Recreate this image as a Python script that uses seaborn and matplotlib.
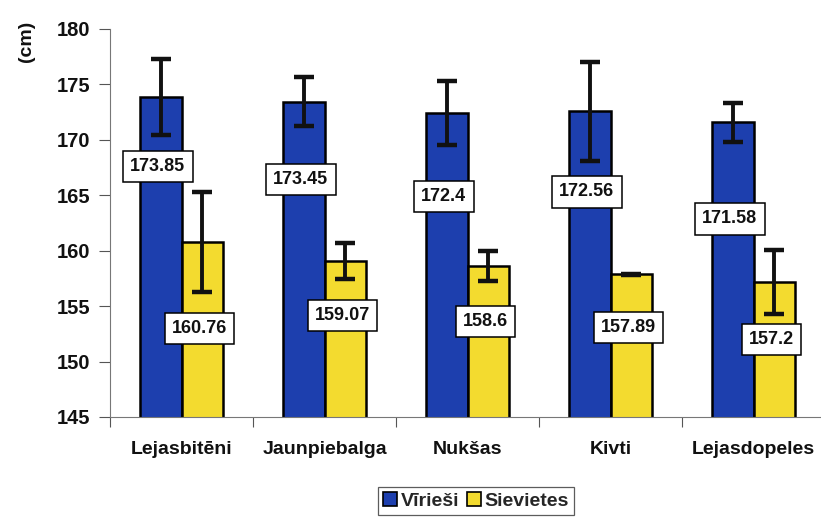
import numpy as np
import pandas as pd
import matplotlib
matplotlib.use("Agg")
import matplotlib.pyplot as plt
import seaborn as sns

sites = ["Lejasbitēni", "Jaunpiebalga", "Nukšas", "Kivti", "Lejasdopeles"]
men = [173.85, 173.45, 172.4, 172.56, 171.58]
women = [160.76, 159.07, 158.6, 157.89, 157.2]
men_sd = [3.45, 2.2, 2.9, 4.5, 1.75]
women_sd = [4.5, 1.65, 1.35, 0.05, 2.9]
groups = ["Vīrieši", "Sievietes"]

# how far below the bar top each value box sits (cm)
men_label_drop = [6.25, 7.05, 7.5, 7.26, 8.7]
women_label_drop = [7.76, 4.9, 5.0, 4.8, 5.2]

blue = "#1d3fae"
yellow = "#f3db2f"

sns.set_theme(style="white")
plt.rcParams["font.family"] = ["Liberation Sans", "DejaVu Sans"]
plt.rcParams["font.weight"] = "bold"

df = pd.DataFrame({
    "site": sites * 2,
    "height": men + women,
    "group": [groups[0]] * len(sites) + [groups[1]] * len(sites),
})

fig = plt.figure(figsize=(8.21, 5.2), dpi=100)
ax = fig.add_axes([110 / 821, 103 / 520, 715 / 821, 388 / 520])

sns.barplot(data=df, x="site", y="height", hue="group", order=sites,
            hue_order=groups, palette=[blue, yellow], saturation=1, width=0.58,
            errorbar=None, edgecolor="black", linewidth=1.8,
            legend=False, ax=ax)

sds = [men_sd, women_sd]
drops = [men_label_drop, women_label_drop]
bar_sets = list(ax.containers)
for i, cont in enumerate(bar_sets):
    xs = [p.get_x() + p.get_width() / 2 for p in cont.patches]
    vals = [men, women][i]
    ax.errorbar(xs, vals, yerr=sds[i], fmt="none", ecolor="#111111",
                elinewidth=2.8, capsize=7, capthick=3.2, zorder=5)
    for x, v, d in zip(xs, vals, drops[i]):
        ax.text(x - 0.02, v - d, f"{v:g}", ha="center", va="center",
                fontsize=13, fontweight="bold", color="#111111", zorder=6,
                bbox=dict(boxstyle="square,pad=0.4", facecolor="white",
                          edgecolor="black", linewidth=1.1))

ax.set_ylim(145, 180)
ax.set_xlim(-0.5, len(sites) - 0.5)
ax.set_yticks(np.arange(145, 181, 5))
ax.set_xlabel("")
ax.set_ylabel("")
ax.set_xticks(np.arange(-0.5, len(sites), 1.0), minor=True)
ax.tick_params(axis="x", which="major", length=0, pad=17, labelsize=14)
ax.tick_params(axis="x", which="minor", length=7, width=0.8, color="#555555",
               direction="out", bottom=True)
ax.tick_params(axis="y", length=8, width=0.8, color="#555555", direction="out",
               left=True, labelsize=14.5, pad=6)
for lbl in ax.get_xticklabels() + ax.get_yticklabels():
    lbl.set_fontweight("bold")
    lbl.set_color("#111111")

sns.despine(ax=ax, top=True, right=True)
ax.spines["left"].set_color("#777777")
ax.spines["bottom"].set_color("#777777")
ax.spines["left"].set_linewidth(0.8)
ax.spines["bottom"].set_linewidth(0.8)

fig.text(26 / 821, 1 - 41 / 520, "(cm)", rotation=90, ha="center", va="center",
         fontsize=14, fontweight="bold", color="#111111")

handles = [plt.Rectangle((0, 0), 1, 1, facecolor=c, edgecolor="black", linewidth=1.2)
           for c in [blue, yellow]]
leg = fig.legend(handles, groups, loc="center", bbox_to_anchor=(476 / 821, 1 - 501 / 520),
                 ncol=2, frameon=True, fancybox=False, handlelength=0.7,
                 handleheight=0.7, handletextpad=0.2, columnspacing=0.4,
                 borderpad=0.25, borderaxespad=0,
                 prop={"size": 14, "weight": "bold"})
leg.get_frame().set_edgecolor("#333333")
leg.get_frame().set_linewidth(0.9)

fig.savefig("out.png", dpi=100)
